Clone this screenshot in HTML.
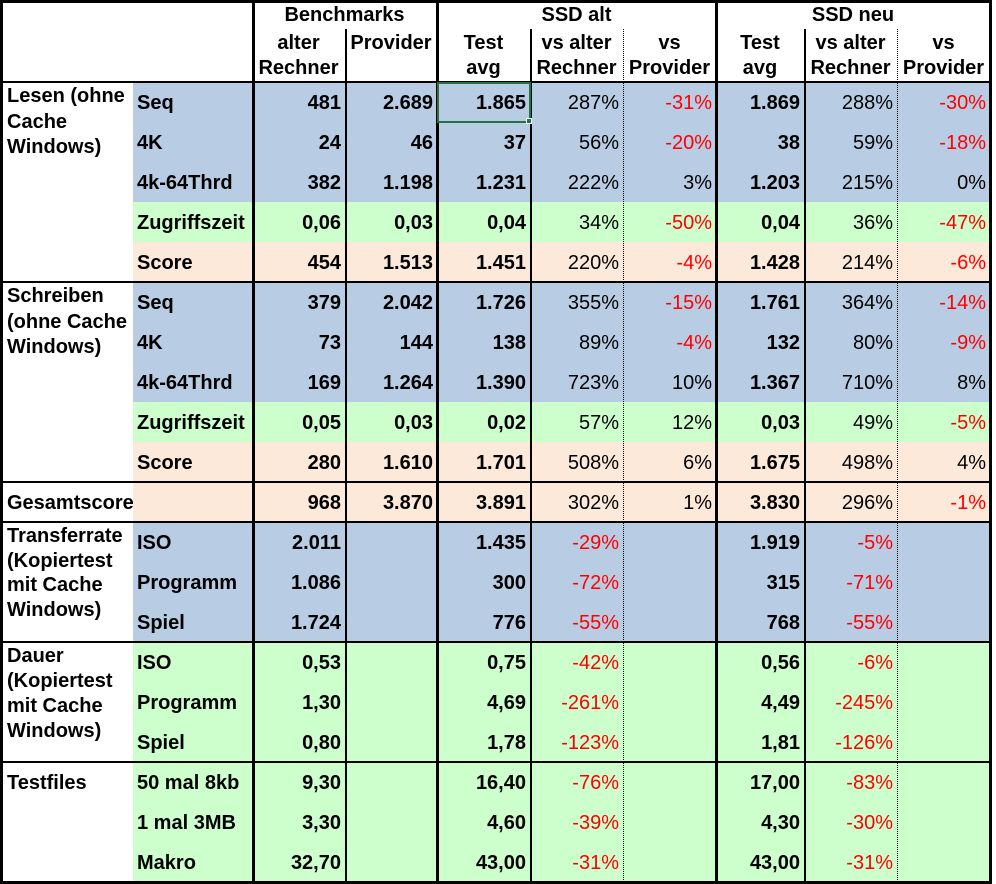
<!DOCTYPE html>
<html><head><meta charset="utf-8">
<style>
html,body{margin:0;padding:0;background:#fff;}
#sheet{position:relative;width:996px;height:884px;overflow:hidden;font-family:"Liberation Sans",Arial,sans-serif;font-size:20px;color:#000;}
.c{position:absolute;box-sizing:border-box;white-space:nowrap;}
.v{text-align:right;padding-right:4px;line-height:42px;font-weight:bold;}
.p{font-weight:normal;}
.neg{color:#ff0000;}
.h{font-weight:bold;text-align:center;line-height:25px;}
.ln{position:absolute;background:#000;}
</style></head><body>
<div id="sheet"></div>
<script>
const colX=[2,133,252,345,437,530,623,716,804,897,990];
const rowTop=82, rowH=40;
const rowLabels=["Seq","4K","4k-64Thrd","Zugriffszeit","Score","Seq","4K","4k-64Thrd","Zugriffszeit","Score","","ISO","Programm","Spiel","ISO","Programm","Spiel","50 mal 8kb","1 mal 3MB","Makro"];
const colAlter=["481","24","382","0,06","454","379","73","169","0,05","280","968","2.011","1.086","1.724","0,53","1,30","0,80","9,30","3,30","32,70"];
const colProvider=["2.689","46","1.198","0,03","1.513","2.042","144","1.264","0,03","1.610","3.870","","","","","","","","",""];
const colAltAvg=["1.865","37","1.231","0,04","1.451","1.726","138","1.390","0,02","1.701","3.891","1.435","300","776","0,75","4,69","1,78","16,40","4,60","43,00"];
const colAltVsAlter=["287%","56%","222%","34%","220%","355%","89%","723%","57%","508%","302%","-29%","-72%","-55%","-42%","-261%","-123%","-76%","-39%","-31%"];
const colAltVsProv=["-31%","-20%","3%","-50%","-4%","-15%","-4%","10%","12%","6%","1%","","","","","","","","",""];
const colNeuAvg=["1.869","38","1.203","0,04","1.428","1.761","132","1.367","0,03","1.675","3.830","1.919","315","768","0,56","4,49","1,81","17,00","4,30","43,00"];
const colNeuVsAlter=["288%","59%","215%","36%","214%","364%","80%","710%","49%","498%","296%","-5%","-71%","-55%","-6%","-245%","-126%","-83%","-30%","-31%"];
const colNeuVsProv=["-30%","-18%","0%","-47%","-6%","-14%","-9%","8%","-5%","4%","-1%","","","","","","","","",""];
const rowColors=["b","b","b","g","s","b","b","b","g","s","s","b","b","b","g","g","g","g","g","g"];
const palette={b:"#b8cce4",g:"#ccffcc",s:"#fde9d9"};
const S=document.getElementById('sheet');
function mk(cls,x,y,w,h){const d=document.createElement('div');d.className=cls;d.style.left=x+'px';d.style.top=y+'px';d.style.width=w+'px';d.style.height=h+'px';S.appendChild(d);return d;}
const cols=[colAlter,colProvider,colAltAvg,colAltVsAlter,colAltVsProv,colNeuAvg,colNeuVsAlter,colNeuVsProv];
const pctCols=[3,4,6,7];
rowLabels.forEach((lab,r)=>{
  const y=rowTop+r*rowH;
  const bg=mk('c',colX[1],y,colX[10]-colX[1],rowH);bg.style.background=palette[rowColors[r]];
  
  
  if(lab){const l=mk('c',colX[1]+4,y,colX[2]-colX[1],rowH);l.style.fontWeight='bold';l.style.lineHeight='42px';l.textContent=lab;
    
    }
  cols.forEach((arr,i)=>{
    const t=arr[r];
    const d=mk('c v'+(pctCols.includes(i)?' p':'')+(t.startsWith('-')?' neg':''),colX[i+2],y,colX[i+3]-colX[i+2],rowH);
    d.textContent=t;
    
    
  });
});
const groups=[[0,["Lesen (ohne","Cache","Windows)"],25.5],[5,["Schreiben","(ohne Cache","Windows)"],25.5],[10,["Gesamtscore"],42],[11,["Transferrate","(Kopiertest","mit Cache","Windows)"],24.5],[14,["Dauer","(Kopiertest","mit Cache","Windows)"],25],[17,["Testfiles"],42]];
groups.forEach(([r,lines,lh])=>{
  const d=mk('c',7,rowTop+r*rowH+(lh===42?0:2),200,lines.length*lh);
  d.style.fontWeight='bold';d.style.lineHeight=lh+'px';d.innerHTML=lines.join('<br>');
  
  
});
function hd(txt,x1,x2,y,h,name){const d=mk('c h',x1,y,x2-x1,h);d.innerHTML=txt;
  
  }
hd('Benchmarks',colX[2],colX[4],3,26,'header-benchmarks');
hd('SSD alt',colX[4],colX[7],3,26,'header-ssd-alt');
hd('SSD neu',colX[7],colX[10],3,26,'header-ssd-neu');
const sub=['alter<br>Rechner','Provider','Test<br>avg','vs alter<br>Rechner','vs<br>Provider','Test<br>avg','vs alter<br>Rechner','vs<br>Provider'];
sub.forEach((t,i)=>hd(t,colX[i+2],colX[i+3],31,50,'subheader'));
function L(x,y,w,h,dotted){const d=document.createElement('div');d.className='ln';d.style.left=x+'px';d.style.top=y+'px';d.style.width=w+'px';d.style.height=h+'px';
  if(dotted){d.style.background='none';d.style.borderLeft='1px dotted #000';}
  S.appendChild(d);}
[0,252,436,715,989].forEach(x=>L(x,0,3,884));
[345,530,804].forEach(x=>L(x,29,2,855));
[623,897].forEach(x=>L(x,29,1,855,true));
L(0,0,992,3);
[81,281,481,521,641,761].forEach(y=>L(0,y,992,2));
L(0,881,992,3);
const sel=mk('c',437,82,94,41);sel.style.border='2px solid #217346';


const hdl=mk('c',526,118,6,6);hdl.style.background='#217346';hdl.style.border='1px solid #fff';


</script>
</body></html>
